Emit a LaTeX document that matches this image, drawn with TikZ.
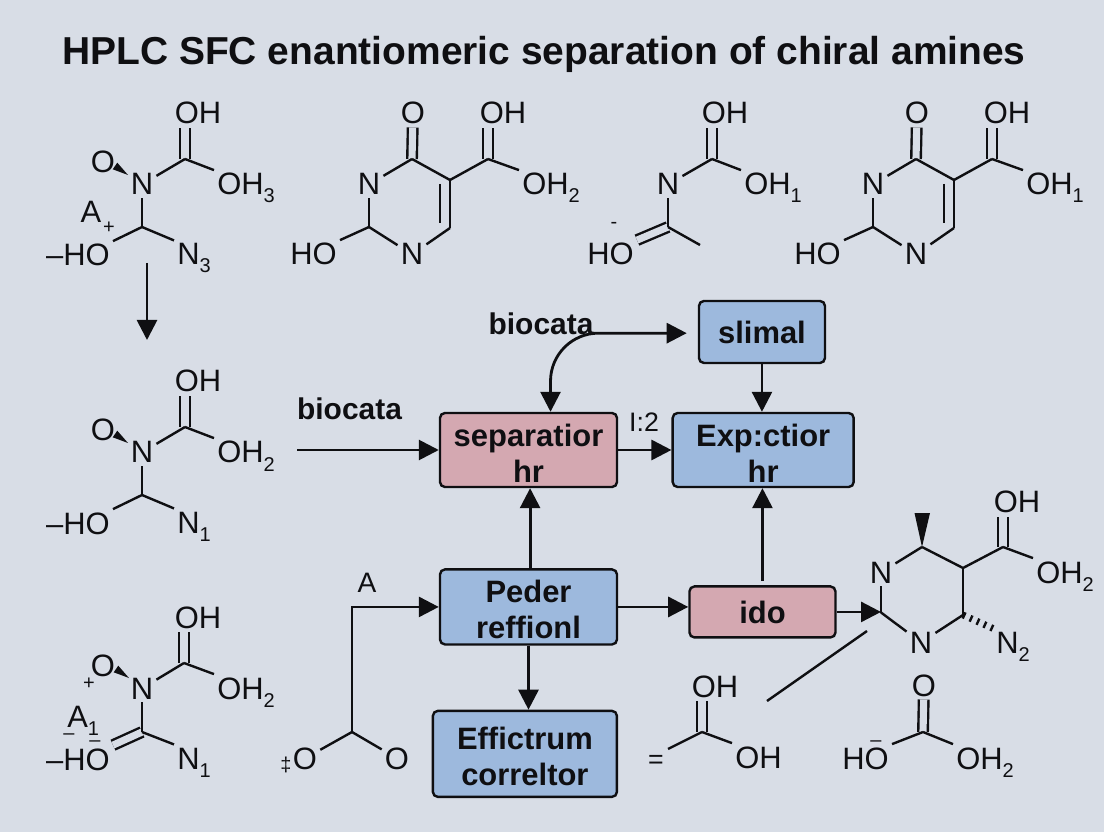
\documentclass[tikz,border=0pt]{standalone}
\usepackage{fontspec}
\setmainfont{Liberation Sans}
\usetikzlibrary{arrows.meta,positioning}
\definecolor{pagebg}{RGB}{216,221,230}
\definecolor{boxblue}{RGB}{157,185,221}
\definecolor{boxpink}{RGB}{212,168,177}
\definecolor{ink}{RGB}{15,15,18}
\newcommand{\atomsub}[1]{\raisebox{-0.2cm}{\fontsize{14.2}{14.2}\selectfont #1}}
\newcommand{\lowerline}{\rule{0pt}{0.71cm}}

\begin{document}
\begin{tikzpicture}[
    x=0.025cm,y=-0.025cm,
    box/.style={draw=ink,line width=0.6mm,rounded corners=1.25mm,align=center,text=ink,inner sep=0pt,
      font=\fontsize{22}{25.6}\selectfont\bfseries},
    bluebox/.style={box,fill=boxblue},
    pinkbox/.style={box,fill=boxpink},
    arrow/.style={-{Triangle[length=5mm,width=5mm]},line width=0.7mm,draw=ink},
    twoway/.style={{Triangle[length=5mm,width=5mm]}-{Triangle[length=5mm,width=5mm]},line width=0.7mm,draw=ink},
    atom/.style={anchor=base,inner sep=0.075cm,text=ink,font=\fontsize{22}{25.6}\selectfont},
    atomw/.style={atom,anchor=base west},
    atome/.style={atom,anchor=base east},
    tiny/.style={atom,inner sep=0pt,font=\fontsize{14.2}{14.2}\selectfont},
    boldtext/.style={anchor=base,text=ink,inner sep=0pt,font=\fontsize{21.3}{25.6}\selectfont\bfseries},
    bond/.style={line width=0.6mm,draw=ink},
    dbond/.style={line width=0.6mm,draw=ink,double=pagebg,double distance=1.78mm},
    hashed/.style={line width=1.7mm,draw=ink,dash pattern=on 0.6mm off 1.3mm}
  ]
    \useasboundingbox (0,0) rectangle (1104,832);
    \fill[pagebg] (0,0) rectangle (1104,832);
    \node[boldtext,font=\fontsize{27.7}{30}\selectfont\bfseries] (title) at (544,65) {HPLC SFC enantiomeric separation of chiral amines};

    % flow boxes
    \node[pinkbox,minimum width=4.425cm,minimum height=1.85cm] (sep) at (528.5,450) {\lowerline separatior\\hr};
    \node[bluebox,minimum width=4.525cm,minimum height=1.85cm,right=1.33cm of sep] (expn) {\lowerline Exp:ctior\\hr};
    \node[bluebox,minimum width=3.15cm,minimum height=1.55cm,above=1.19cm of expn,xshift=-0.03cm] (slimal) {slimal};
    \node[bluebox,minimum width=4.425cm,minimum height=1.875cm,below=2.0cm of sep] (peder) {\lowerline Peder\\reffionl};
    \node[pinkbox,minimum width=3.65cm,minimum height=1.275cm,right=1.75cm of peder,yshift=-0.125cm] (ido) {ido};
    \node[bluebox,minimum width=4.6cm,minimum height=2.15cm,below=1.6cm of peder,xshift=-0.09cm] (eff) {\lowerline Effictrum\\correltor};

    \node[boldtext] (biotop) at (541,335) {biocata};
    \node[boldtext] (bioleft) at (349.5,420) {biocata};
    \node[atom,inner sep=0pt,font=\fontsize{19}{22}\selectfont] (ratio) at (644,432) {I:2};

    \coordinate (feed) at (297,450);
    \draw[arrow] (feed) -- (sep.west);
    \draw[twoway,rounded corners=1.2cm,shorten >=0.275cm] ([xshift=0.55cm]sep.north) |- ([yshift=-0.03cm]slimal.west);
    \draw[arrow] (sep.east) -- (expn.west);
    \draw[arrow] (slimal.south) -- (slimal.south |- expn.north);
    \draw[arrow] ([xshift=0.04cm]peder.north) -- ([xshift=0.04cm]peder.north |- sep.south);
    \draw[arrow] ([yshift=0.1cm]ido.north) -- (ido.north |- expn.south);
    \draw[arrow] (peder.east) -- (peder.east -| ido.west);
    \draw[arrow] (peder.south) -- (peder.south |- eff.north);

    % top left molecule
    \coordinate (aC) at (185,159);
    \coordinate (aD) at (142,227);
    \node[atom] (aOH) at (198,124) {OH};
    \node[atom] (aN) at (142,195) {N};
    \node[atom] (aO) at (103,173) {O};
    \node[atomw] (aOHb) at (214,195) {OH\atomsub{3}};
    \node[atome] (aHO) at (113,266) {–HO};
    \node[atomw] (aNb) at (174,265) {N\atomsub{3}};
    \node[atom] (aA) at (91,223) {A};
    \node[tiny] (aplus) at (109,234) {+};
    \draw[dbond] (aC) -- (aC |- aOH.south);
    \draw[bond] (aC) -- (aN);
    \draw[bond] (aC) -- (aOHb.north west);
    \draw[bond] (aN) -- (aD);
    \draw[bond] (aD) -- (aHO.north east);
    \draw[bond] (aD) -- (aNb.north west);
    \fill[ink] (128,175) -- (117.3,162.7) -- (112.7,169.3) -- cycle;

    \coordinate (downa) at (147,263);
    \coordinate (downb) at (147,340);
    \draw[arrow] (downa) -- (downb);

    % middle left molecule
    \coordinate (bC) at (185,427);
    \coordinate (bD) at (142,495);
    \node[atom] (bOH) at (198,392) {OH};
    \node[atom] (bN) at (142,463) {N};
    \node[atom] (bO) at (103,441) {O};
    \node[atomw] (bOHb) at (214,463) {OH\atomsub{2}};
    \node[atome] (bHO) at (113,534) {–HO};
    \node[atomw] (bNb) at (174,533) {N\atomsub{1}};
    \draw[dbond] (bC) -- (bC |- bOH.south);
    \draw[bond] (bC) -- (bN);
    \draw[bond] (bC) -- (bOHb.north west);
    \draw[bond] (bN) -- (bD);
    \draw[bond] (bD) -- (bHO.north east);
    \draw[bond] (bD) -- (bNb.north west);
    \fill[ink] (128,443) -- (117.3,430.7) -- (112.7,437.3) -- cycle;

    % bottom left molecule
    \coordinate (cC) at (184,663);
    \coordinate (cD) at (142,732);
    \node[atom] (cOH) at (198,628) {OH};
    \node[atom] (cN) at (142,699) {N};
    \node[atom] (cO) at (103,676) {O};
    \node[tiny] (cplus) at (89,689) {+};
    \node[atomw] (cOHb) at (214,699) {OH\atomsub{2}};
    \node[atome] (cHO) at (113,770) {–HO};
    \node[atomw] (cNb) at (174,769) {N\atomsub{1}};
    \node[atomw,inner sep=0pt] (cA) at (67,727) {A\atomsub{1}};
    \node[tiny] (cminus) at (69,739) {–};
    \node[tiny] (cbar) at (95,746) {–};
    \draw[dbond] (cC) -- (cC |- cOH.south);
    \draw[dbond] (cD) -- (cHO.north east);
    \draw[bond] (cC) -- (cN);
    \draw[bond] (cC) -- (cOHb.north west);
    \draw[bond] (cN) -- (cD);
    \draw[bond] (cD) -- (cNb.north west);
    \fill[ink] (129,678) -- (118.3,665.7) -- (113.7,672.3) -- cycle;

    % first ring
    \coordinate (dC) at (412,159);
    \coordinate (dE) at (450,180);
    \coordinate (dF) at (450,228);
    \coordinate (dG) at (369,227);
    \coordinate (dK) at (488,159);
    \node[atom] (dO) at (413,124) {O};
    \node[atom] (dNa) at (369,195) {N};
    \node[atom] (dNb) at (412,265) {N};
    \node[atom] (dOH) at (503,124) {OH};
    \node[atomw] (dOHb) at (519,195) {OH\atomsub{2}};
    \node[atome] (dHO) at (340,265) {HO};
    \draw[dbond] (dC) -- (dO);
    \draw[dbond] (dK) -- (dK |- dOH.south);
    \draw[bond] (dC) -- (dNa);
    \draw[bond] (dC) -- (dE);
    \draw[bond] (dE) -- (dF);
    \draw[bond] ([shift={(-10,4)}]dE) -- ([shift={(-10,-5)}]dF);
    \draw[bond] (dF) -- (dNb);
    \draw[bond] (dNb) -- (dG);
    \draw[bond] (dG) -- (dNa);
    \draw[bond] (dG) -- (dHO.north east);
    \draw[bond] (dE) -- (dK);
    \draw[bond] (dK) -- (dOHb.north west);

    % small acid top
    \coordinate (eC) at (712,159);
    \coordinate (eD) at (668,227);
    \coordinate (eM) at (700,245);
    \node[atom] (eOH) at (725,124) {OH};
    \node[atom] (eN) at (668,195) {N};
    \node[atomw] (eOHb) at (741,195) {OH\atomsub{1}};
    \node[atome] (eHO) at (637,265) {HO};
    \node[tiny] (eminus) at (614,229) {-};
    \draw[dbond] (eC) -- (eC |- eOH.south);
    \draw[dbond] (eD) -- (eHO.north east);
    \draw[bond] (eC) -- (eN);
    \draw[bond] (eC) -- (eOHb.north west);
    \draw[bond] (eN) -- (eD);
    \draw[bond] (eD) -- (eM);

    % second ring
    \coordinate (fC) at (916,159);
    \coordinate (fE) at (954,180);
    \coordinate (fF) at (954,228);
    \coordinate (fG) at (873,227);
    \coordinate (fK) at (992,159);
    \node[atom] (fO) at (917,124) {O};
    \node[atom] (fNa) at (873,195) {N};
    \node[atom] (fNb) at (916,265) {N};
    \node[atom] (fOH) at (1007,124) {OH};
    \node[atomw] (fOHb) at (1023,195) {OH\atomsub{1}};
    \node[atome] (fHO) at (844,265) {HO};
    \draw[dbond] (fC) -- (fO);
    \draw[dbond] (fK) -- (fK |- fOH.south);
    \draw[bond] (fC) -- (fNa);
    \draw[bond] (fC) -- (fE);
    \draw[bond] (fE) -- (fF);
    \draw[bond] ([shift={(-10,4)}]fE) -- ([shift={(-10,-5)}]fF);
    \draw[bond] (fF) -- (fNb);
    \draw[bond] (fNb) -- (fG);
    \draw[bond] (fG) -- (fNa);
    \draw[bond] (fG) -- (fHO.north east);
    \draw[bond] (fE) -- (fK);
    \draw[bond] (fK) -- (fOHb.north west);

    % ring beside the ido box
    \coordinate (gC) at (922,547);
    \coordinate (gE) at (963,568);
    \coordinate (gF) at (963,615);
    \coordinate (gG) at (881,612.5);
    \coordinate (gK) at (1003,547);
    \node[atom] (gNa) at (881,583) {N};
    \node[atom] (gNb) at (921,653) {N};
    \node[atom] (gOH) at (1017,513) {OH};
    \node[atomw] (gOHb) at (1033,583) {OH\atomsub{2}};
    \node[atomw] (gNc) at (993,653) {N\atomsub{2}};
    \draw[dbond] (gK) -- (gK |- gOH.south);
    \draw[bond] (gC) -- (gNa);
    \draw[bond] (gC) -- (gE);
    \draw[bond] (gE) -- (gF);
    \draw[bond] (gF) -- (gNb);
    \draw[bond] (gNb) -- (gG);
    \draw[bond] (gG) -- (gNa);
    \draw[bond] (gE) -- (gK);
    \draw[bond] (gK) -- (gOHb.north west);
    \draw[hashed] (gF) -- (gNc.north west);
    \fill[ink] (922,547) -- (914.5,513) -- (930,513) -- cycle;
    \draw[arrow] (ido.east) -- (ido.east -| gG);

    \coordinate (linea) at (767,701);
    \coordinate (lineb) at (867,631);
    \draw[bond] (linea) -- (lineb);

    % bottom acids
    \coordinate (hC) at (923,732);
    \node[atom] (hO) at (924,696) {O};
    \node[atome] (hHO) at (892,769) {HO};
    \node[atomw] (hOH) at (953,769) {OH\atomsub{2}};
    \node[tiny] (hbar) at (876,746) {–};
    \draw[dbond] (hC) -- (hO);
    \draw[bond] (hC) -- (hHO.north east);
    \draw[bond] (hC) -- (hOH.north west);

    \coordinate (kC) at (702,732);
    \coordinate (kL) at (668,749);
    \node[atom] (kOHa) at (715,697) {OH};
    \node[atomw] (kOHb) at (732,768) {OH};
    \node[atom,inner sep=0pt,font=\fontsize{19}{22}\selectfont] (kEq) at (656,768) {=};
    \draw[dbond] (kC) -- (kC |- kOHa.south);
    \draw[bond] (kC) -- (kL);
    \draw[bond] (kC) -- (kOHb.north west);

    \coordinate (jC) at (352,732);
    \node[atom] (jOa) at (305,769) {O};
    \node[atom] (jOb) at (397,769) {O};
    \node[tiny] (jmark) at (286,771) {‡};
    \node[atom,font=\fontsize{20}{24}\selectfont] (jA) at (367,592) {A};
    \draw[bond] (jC) -- (jOa);
    \draw[bond] (jC) -- (jOb);
    \draw[arrow] (jC) |- (peder.west);
  \end{tikzpicture}
\end{document}
